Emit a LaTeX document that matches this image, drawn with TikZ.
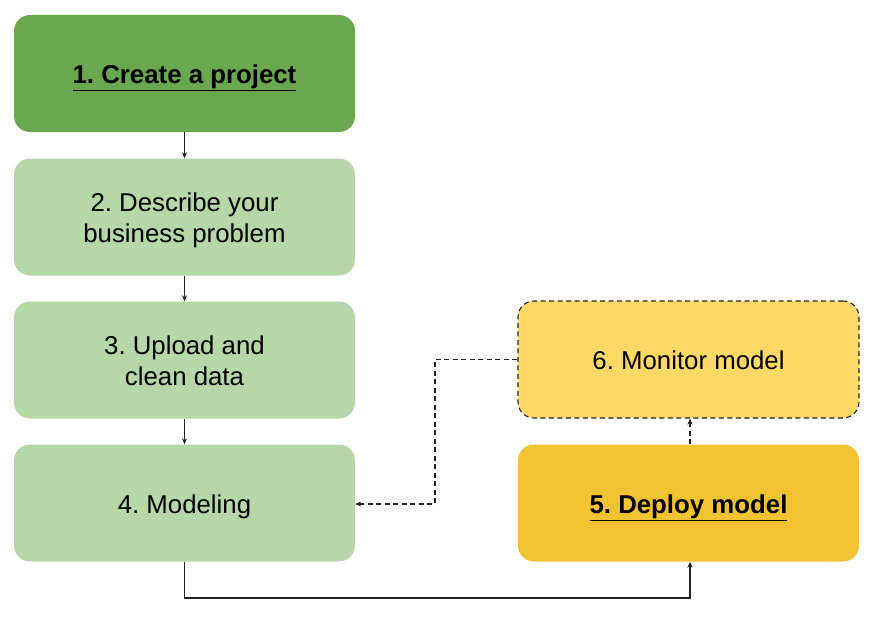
\documentclass[tikz,border=0pt]{standalone}
\usepackage{fontspec}
\setmainfont{Liberation Sans}
\usetikzlibrary{arrows.meta}
\frenchspacing
\definecolor{gDark}{HTML}{6AA84F}
\definecolor{gLight}{HTML}{B6D7A8}
\definecolor{yLight}{HTML}{FFD966}
\definecolor{yDark}{HTML}{F1C232}
\definecolor{edge}{HTML}{222222}
\newcommand{\boxtxt}[1]{\raisebox{-4pt}[\height][\depth]{\begin{tabular}{@{}c@{}}#1\end{tabular}}}
\begin{document}
\begin{tikzpicture}[x=1pt,y=-1pt,
  stepbox/.style={rounded corners=16pt, minimum width=341pt, minimum height=117pt,
    inner sep=0pt, align=center, font=\fontsize{25.8}{31}\selectfont, text=black},
  conn/.style={draw=edge, line width=1.1pt, -{Stealth[length=6pt,width=5pt]}},
  dconn/.style={conn, dash pattern=on 5pt off 3.5pt}
]
\useasboundingbox (0,0) rectangle (874,618);
\node[stepbox, fill=gDark] (s1) at (184.5,73.5) {\boxtxt{\textbf{\underline{1. Create a project}}}};
\node[stepbox, fill=gLight] (s2) at (184.5,217) {\boxtxt{2. Describe your\\business problem}};
\node[stepbox, fill=gLight] (s3) at (184.5,360) {\boxtxt{3. Upload and\\clean data}};
\node[stepbox, fill=gLight] (s4) at (184.5,503) {\boxtxt{4. Modeling}};
\node[stepbox, fill=yLight, draw=edge, line width=1.1pt, dash pattern=on 5pt off 3.5pt] (s6) at (688.5,359.5) {\boxtxt{6. Monitor model}};
\node[stepbox, fill=yDark] (s5) at (688.5,503) {\boxtxt{\textbf{\underline{5. Deploy model}}}};
\draw[conn] (s1) -- (s2);
\draw[conn] (s2) -- (s3);
\draw[conn] (s3) -- (s4);
\coordinate (c1) at (184.5,598);
\coordinate (c2) at (690,598);
\draw[conn] (s4.south) -- (c1) -- (c2) -- (s5.south -| c2);
\draw[dconn] (s5.north -| c2) -- (s6.south -| c2);
\coordinate (d1) at (435,359.5);
\coordinate (d2) at (435,504);
\draw[dconn] (s6.west) -- (d1) -- (d2) -- (s4.east |- d2);
\end{tikzpicture}
\end{document}
